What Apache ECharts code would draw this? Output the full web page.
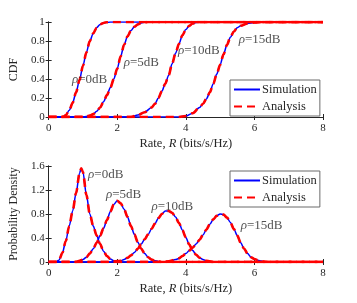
<!DOCTYPE html>
<html>
<head>
<meta charset="utf-8">
<script src="https://cdn.jsdelivr.net/npm/echarts@6/dist/echarts.min.js"></script>
<style>
html,body{margin:0;padding:0;background:#fff;}
#c{width:357px;height:303px;}
</style>
</head>
<body>
<div id="c"></div>
<script>
// ---- Data ----
const xTicks = [0, 2, 4, 6, 8];
const cdfTicks = [0, 0.2, 0.4, 0.6, 0.8, 1];
const pdfTicks = [0, 0.4, 0.8, 1.2, 1.6];
const snrLabels = ['0dB', '5dB', '10dB', '15dB'];

// CDF curves
const cdfX0 = [0, 0.4, 0.45, 0.5, 0.6, 0.7, 0.8, 0.9, 1.0, 1.1, 1.2, 1.3, 1.4, 1.5, 1.6, 1.7, 1.8, 8];
const cdfY0 = [0, 0, 0.005, 0.02, 0.07, 0.15, 0.26, 0.39, 0.54, 0.68, 0.8, 0.88, 0.94, 0.975, 0.99, 0.997, 1, 1];
const cdfX5 = [0, 1.0, 1.1, 1.2, 1.3, 1.4, 1.5, 1.6, 1.7, 1.8, 1.9, 2.0, 2.1, 2.2, 2.3, 2.4, 2.5, 2.6, 2.7, 2.8, 2.9, 8];
const cdfY5 = [0, 0, 0.005, 0.015, 0.03, 0.06, 0.1, 0.16, 0.23, 0.31, 0.4, 0.51, 0.64, 0.76, 0.85, 0.91, 0.95, 0.975, 0.99, 0.997, 1, 1];
const cdfX10 = [0, 2.4, 2.6, 2.8, 3.0, 3.1, 3.2, 3.3, 3.4, 3.5, 3.6, 3.7, 3.8, 3.9, 4.0, 4.1, 4.2, 4.3, 4.4, 8];
const cdfY10 = [0, 0, 0.02, 0.05, 0.1, 0.14, 0.2, 0.27, 0.35, 0.44, 0.56, 0.67, 0.77, 0.86, 0.92, 0.96, 0.985, 0.995, 1, 1];
const cdfX15 = [0, 3.8, 4.0, 4.2, 4.4, 4.5, 4.6, 4.7, 4.8, 4.9, 5.0, 5.1, 5.2, 5.3, 5.4, 5.5, 5.6, 5.8, 6.0, 6.2, 8];
const cdfY15 = [0, 0, 0.01, 0.04, 0.1, 0.14, 0.19, 0.26, 0.35, 0.45, 0.55, 0.66, 0.76, 0.84, 0.9, 0.94, 0.96, 0.985, 0.995, 1, 1];

// PDF curves
const pdfX0 = [0, 0.2, 0.3, 0.4, 0.5, 0.6, 0.7, 0.8, 0.9, 0.95, 1.0, 1.1, 1.2, 1.3, 1.4, 1.5, 1.6, 1.7, 1.8, 1.9, 2.0, 8];
const pdfY0 = [0, 0, 0.03, 0.15, 0.35, 0.6, 0.85, 1.15, 1.48, 1.56, 1.5, 1.12, 0.8, 0.6, 0.44, 0.3, 0.18, 0.1, 0.05, 0.02, 0, 0];
const pdfX5 = [0, 0.8, 0.9, 1.0, 1.1, 1.2, 1.3, 1.4, 1.5, 1.6, 1.7, 1.8, 1.9, 2.0, 2.1, 2.2, 2.3, 2.4, 2.5, 2.6, 2.7, 2.8, 2.9, 3.0, 3.1, 3.2, 3.3, 8];
const pdfY5 = [0, 0, 0.02, 0.04, 0.08, 0.14, 0.22, 0.32, 0.44, 0.56, 0.7, 0.84, 0.96, 1.02, 0.98, 0.88, 0.75, 0.6, 0.46, 0.33, 0.22, 0.14, 0.08, 0.04, 0.02, 0.01, 0, 0];
const pdfX10 = [0, 1.8, 1.9, 2.0, 2.1, 2.2, 2.3, 2.4, 2.5, 2.6, 2.7, 2.8, 2.9, 3.0, 3.1, 3.2, 3.3, 3.4, 3.5, 3.6, 3.7, 3.8, 3.9, 4.0, 4.1, 4.2, 4.3, 4.4, 4.5, 4.6, 4.7, 4.8, 8];
const pdfY10 = [0, 0, 0.01, 0.015, 0.02, 0.04, 0.07, 0.11, 0.16, 0.22, 0.3, 0.38, 0.46, 0.55, 0.64, 0.73, 0.8, 0.85, 0.85, 0.82, 0.75, 0.65, 0.53, 0.41, 0.29, 0.19, 0.12, 0.07, 0.04, 0.02, 0.01, 0, 0];
const pdfX15 = [0, 3.3, 3.5, 3.7, 3.8, 3.9, 4.0, 4.1, 4.2, 4.3, 4.4, 4.5, 4.6, 4.7, 4.8, 4.9, 5.0, 5.1, 5.2, 5.3, 5.4, 5.5, 5.6, 5.7, 5.8, 5.9, 6.0, 6.1, 6.2, 6.3, 6.4, 8];
const pdfY15 = [0, 0, 0.01, 0.04, 0.06, 0.1, 0.14, 0.19, 0.24, 0.3, 0.37, 0.45, 0.54, 0.63, 0.71, 0.77, 0.8, 0.79, 0.74, 0.66, 0.55, 0.44, 0.32, 0.22, 0.14, 0.08, 0.05, 0.03, 0.015, 0.005, 0, 0];

// Annotation anchor points (left edge of label, vertical centre)
const cdfLabelX = [0.68, 2.19, 3.77, 5.54];
const cdfLabelY = [0.39, 0.57, 0.70, 0.82];
const pdfLabelX = [1.15, 1.67, 3.0, 5.6];
const pdfLabelY = [1.46, 1.13, 0.93, 0.60];

// ---- Build chart ----
const FONT = '"Liberation Serif", "Times New Roman", serif';
const TXT = '#262626';
const BLUE = '#0000FF';
const RED = '#FF0000';

const zip = (xs, ys) => xs.map((x, i) => [x, ys[i]]);
const cdfSets = [zip(cdfX0, cdfY0), zip(cdfX5, cdfY5), zip(cdfX10, cdfY10), zip(cdfX15, cdfY15)];
const pdfSets = [zip(pdfX0, pdfY0), zip(pdfX5, pdfY5), zip(pdfX10, pdfY10), zip(pdfX15, pdfY15)];

function xAxisMain(gi) {
  return {
    type: 'value', gridIndex: gi, min: xTicks[0], max: xTicks[xTicks.length - 1], interval: 2,
    name: 'Rate, {i|R} (bits/s/Hz)', nameLocation: 'middle', nameGap: 20,
    nameTextStyle: { fontFamily: FONT, fontSize: 12.5, color: TXT, rich: { i: { fontFamily: FONT, fontStyle: 'italic', fontSize: 12.5, color: TXT } } },
    axisLine: { show: true, lineStyle: { color: TXT, width: 1 } },
    axisTick: { show: true, inside: true, length: 3, lineStyle: { color: TXT } },
    axisLabel: { fontFamily: FONT, fontSize: 11, color: TXT, margin: 6 },
    splitLine: { show: false }
  };
}
function xAxisTop(gi) {
  return {
    type: 'value', gridIndex: gi, position: 'top', min: 0, max: 8, interval: 2,
    axisLine: { show: true, lineStyle: { color: TXT, width: 1 } },
    axisTick: { show: true, inside: true, length: 3, lineStyle: { color: TXT } },
    axisLabel: { show: false }, splitLine: { show: false }
  };
}
function yAxisMain(gi, ticks, interval, name) {
  return {
    type: 'value', gridIndex: gi, min: ticks[0], max: ticks[ticks.length - 1], interval: interval,
    name: name, nameLocation: 'middle', nameGap: 23, nameRotate: 90,
    nameTextStyle: { fontFamily: FONT, fontSize: 12, color: TXT },
    axisLine: { show: true, lineStyle: { color: TXT, width: 1 } },
    axisTick: { show: true, inside: true, length: 3, lineStyle: { color: TXT } },
    axisLabel: { fontFamily: FONT, fontSize: 11, color: TXT, margin: 4 },
    splitLine: { show: false }
  };
}
function yAxisRight(gi, ticks, interval) {
  return {
    type: 'value', gridIndex: gi, position: 'right', min: ticks[0], max: ticks[ticks.length - 1], interval: interval,
    axisLine: { show: true, lineStyle: { color: TXT, width: 1 } },
    axisTick: { show: true, inside: true, length: 3, lineStyle: { color: TXT } },
    axisLabel: { show: false }, splitLine: { show: false }
  };
}

const series = [];
function addCurves(sets, xi, yi) {
  sets.forEach(d => {
    series.push({
      name: 'Simulation', type: 'line', xAxisIndex: xi, yAxisIndex: yi, data: d,
      symbol: 'none', showSymbol: false, smooth: 0.3, smoothMonotone: 'x', z: 2, silent: true, animation: false,
      lineStyle: { color: BLUE, width: 1.5 }, itemStyle: { color: BLUE }
    });
  });
  sets.forEach(d => {
    series.push({
      name: 'Analysis', type: 'line', xAxisIndex: xi, yAxisIndex: yi, data: d,
      symbol: 'none', showSymbol: false, smooth: 0.3, smoothMonotone: 'x', z: 3, silent: true, animation: false,
      lineStyle: { color: RED, width: 2.6, type: [8, 5] }, itemStyle: { color: RED }
    });
  });
}
addCurves(cdfSets, 0, 0);
addCurves(pdfSets, 2, 2);

function addLabels(xs, ys, xi, yi) {
  series.push({
    type: 'scatter', xAxisIndex: xi, yAxisIndex: yi, symbolSize: 0, silent: true, animation: false, z: 5,
    data: xs.map((x, i) => ({ value: [x, ys[i]], name: snrLabels[i] })),
    label: {
      show: true, position: 'right', distance: 0,
      formatter: p => '{i|ρ}=' + p.name,
      fontFamily: FONT, fontSize: 13, color: TXT,
      rich: { i: { fontFamily: FONT, fontStyle: 'italic', fontSize: 13, color: TXT } }
    }
  });
}
addLabels(cdfLabelX, cdfLabelY, 0, 0);
addLabels(pdfLabelX, pdfLabelY, 2, 2);

function legendAt(top) {
  return {
    data: ['Simulation', 'Analysis'], orient: 'vertical', left: 230, top: top,
    itemWidth: 26, itemHeight: 8, itemGap: 4,
    itemStyle: { opacity: 0 },
    backgroundColor: '#fff', borderColor: '#6b6b6b', borderWidth: 1, borderRadius: 0,
    padding: [3, 3, 3, 3],
    textStyle: { fontFamily: FONT, fontSize: 12.5, color: TXT, padding: [0, 0, 0, -3] },
    selectedMode: false
  };
}

const option = {
  backgroundColor: '#fff',
  animation: false,
  grid: [
    { left: 46, right: 34, top: 22, height: 95, containLabel: false },
    { left: 46, right: 34, top: 166, height: 96, containLabel: false }
  ],
  xAxis: [xAxisMain(0), xAxisTop(0), xAxisMain(1), xAxisTop(1)],
  yAxis: [yAxisMain(0, cdfTicks, 0.2, 'CDF'), yAxisRight(0, cdfTicks, 0.2),
          yAxisMain(1, pdfTicks, 0.4, 'Probability Density'), yAxisRight(1, pdfTicks, 0.4)],
  legend: [legendAt(80), legendAt(171)],
  series: series
};
const chart = echarts.init(document.getElementById('c'), null, { renderer: 'canvas' });
chart.setOption(option);
</script>
</body>
</html>
